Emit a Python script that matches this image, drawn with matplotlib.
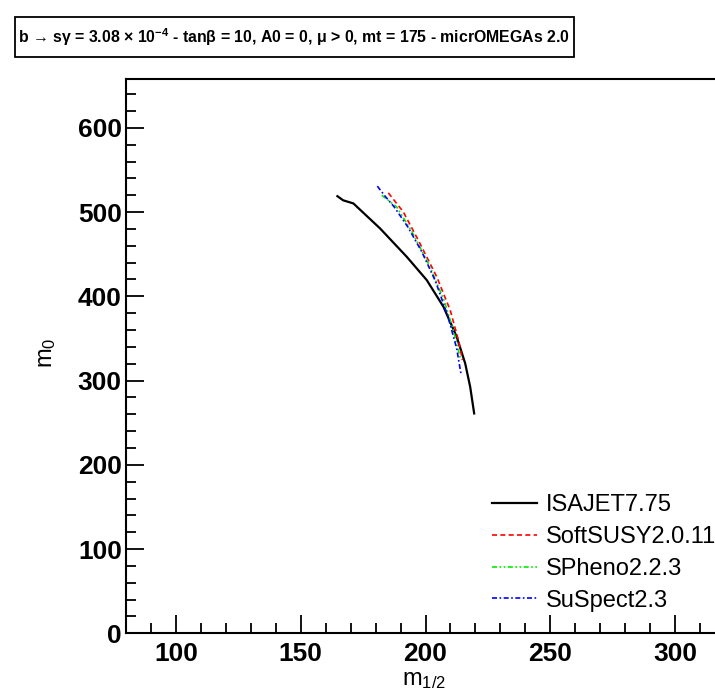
import matplotlib
matplotlib.use("Agg")
from matplotlib import pyplot as plt
from matplotlib.patches import Rectangle
from matplotlib.ticker import MultipleLocator

plt.rcParams['font.family'] = ['Liberation Sans', 'DejaVu Sans']
plt.rcParams['mathtext.fontset'] = 'custom'
plt.rcParams['mathtext.rm'] = 'Liberation Sans'
plt.rcParams['mathtext.it'] = 'Liberation Sans'
plt.rcParams['mathtext.bf'] = 'Liberation Sans:bold'

# contour points (m_1/2, m_0)
isajet_x = [164.7, 167.0, 171.1, 181.8, 192.5, 200.5, 207.2, 212.5, 215.9, 217.9, 219.5]
isajet_y = [518.9, 514.0, 510.3, 480.6, 446.9, 419.3, 387.6, 352.0, 320.4, 292.6, 261.0]

softsusy_x = [185.1, 191.1, 197.1, 204.5, 209.9, 213.2, 214.8]
softsusy_y = [522.8, 500.3, 466.7, 423.2, 383.6, 348.0, 324.3]

spheno_x = [182.5, 188.5, 194.5, 201.5, 207.5, 211.5, 214.0]
spheno_y = [520.0, 506.0, 477.0, 437.0, 395.0, 356.0, 326.0]

suspect_x = [180.7, 183.5, 187.5, 193.0, 198.5, 204.0, 209.0, 212.5, 214.3]
suspect_y = [530.8, 520.0, 506.0, 482.0, 453.0, 418.0, 376.0, 338.0, 306.5]

labels = ['ISAJET7.75', 'SoftSUSY2.0.11', 'SPheno2.2.3', 'SuSpect2.3']

W, H = 715, 693
fig = plt.figure(figsize=(W / 100, H / 100), dpi=100)
ax = fig.add_axes([126 / W, 1 - 633.3 / H, 599 / W, (633.3 - 79) / H])

ax.plot(isajet_x, isajet_y, color='black', lw=1.6, label=labels[0])
ax.plot(softsusy_x, softsusy_y, color='red', lw=1.2, ls=(0, (3, 2)), label=labels[1])
ax.plot(spheno_x, spheno_y, color='#00ee00', lw=1.2, ls=(0, (3, 1.5, 1, 1.5, 1, 1.5)), label=labels[2])
ax.plot(suspect_x, suspect_y, color='blue', lw=1.2, ls=(0, (3, 1.5, 1, 1.5)), label=labels[3])

ax.set_xlim(80, 320)
ax.set_ylim(0, 658)
ax.xaxis.set_major_locator(MultipleLocator(50))
ax.xaxis.set_minor_locator(MultipleLocator(10))
ax.yaxis.set_major_locator(MultipleLocator(100))
ax.yaxis.set_minor_locator(MultipleLocator(20))
ax.tick_params(which='both', direction='in', top=False, right=False, width=1.3)
ax.tick_params(which='major', length=13, labelsize=19)
ax.tick_params(which='minor', length=7)
ax.tick_params(axis='x', pad=6)
ax.tick_params(axis='y', pad=3)
for lab in ax.get_xticklabels() + ax.get_yticklabels():
    lab.set_fontweight('bold')
for s in ['left', 'bottom', 'top']:
    ax.spines[s].set_linewidth(1.5)
ax.spines['right'].set_visible(False)

fig.text(424 / W, 1 - 680 / H, r'm$_{1/2}$', fontsize=17, ha='center', va='center')
fig.text(47 / W, 1 - 353 / H, r'm$_{0}$', fontsize=17, ha='center', va='center', rotation=90)

ax.legend(loc='upper left', bbox_to_anchor=(492 / W, 1 - 494 / H), bbox_transform=fig.transFigure,
          frameon=False, fontsize=17, handlelength=1.9, handletextpad=0.4, borderpad=0,
          borderaxespad=0, labelspacing=0.42)

# title box
fig.patches.append(Rectangle((15 / W, 1 - 57 / H), 559 / W, 40 / H, transform=fig.transFigure,
                             facecolor='white', edgecolor='black', linewidth=1.3))
fig.text(18 / W, 1 - 37 / H,
         'b → sγ = 3.08 × 10$^{\\mathbf{-4}}$ - tanβ = 10, A0 = 0, μ > 0, mt = 175 - micrOMEGAs 2.0',
         fontsize=11.4, fontweight='bold', ha='left', va='center')

fig.savefig('out.png', dpi=100)
